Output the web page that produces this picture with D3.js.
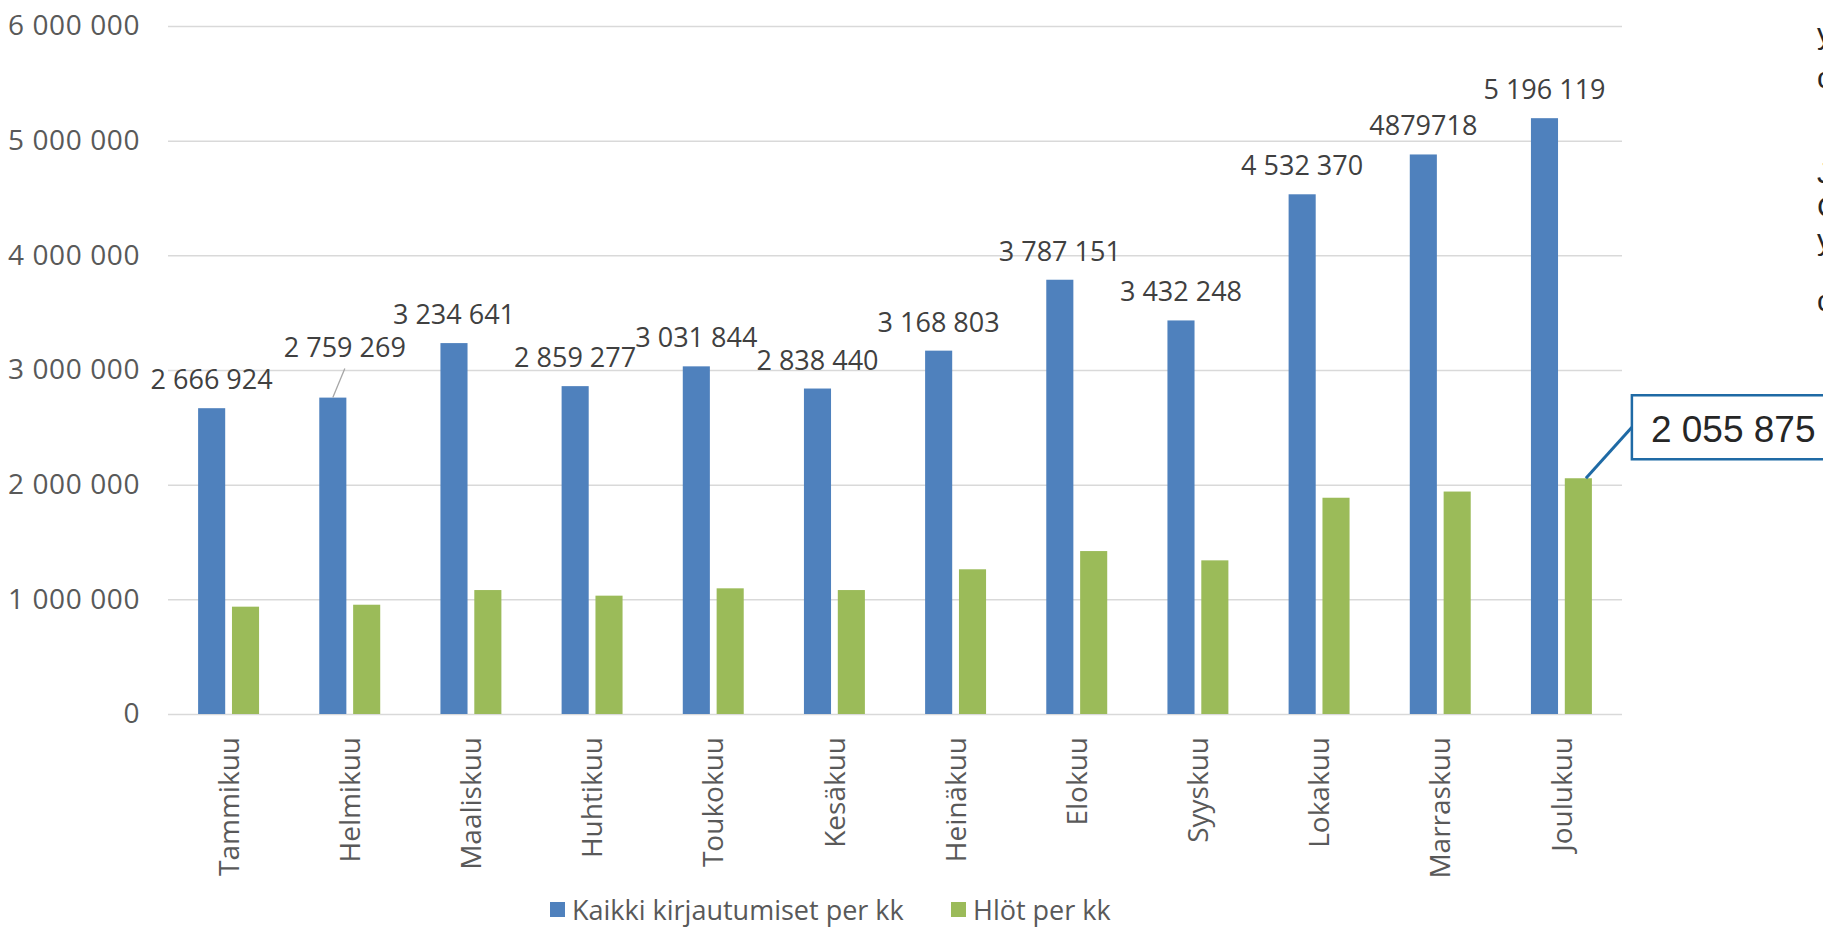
<!DOCTYPE html>
<html>
<head>
<meta charset="utf-8">
<script src="https://cdn.jsdelivr.net/npm/d3@7"></script>
<style>
  html, body { margin: 0; padding: 0; background: #fff; overflow: hidden; }
</style>
</head>
<body>
<div class="canvas"></div>
<script>
// chart data
const months = ['Tammikuu', 'Helmikuu', 'Maaliskuu', 'Huhtikuu', 'Toukokuu', 'Kesäkuu',
  'Heinäkuu', 'Elokuu', 'Syyskuu', 'Lokakuu', 'Marraskuu', 'Joulukuu']
const seriesNames = ['Kaikki kirjautumiset per kk', 'Hlöt per kk']
const logins = [2666924, 2759269, 3234641, 2859277, 3031844, 2838440,
  3168803, 3787151, 3432248, 4532370, 4879718, 5196119]
const persons = [936000, 953000, 1081000, 1032000, 1096000, 1081000,
  1262000, 1421000, 1340000, 1886000, 1940000, 2055875]
const loginLabels = ['2 666 924', '2 759 269', '3 234 641', '2 859 277', '3 031 844', '2 838 440',
  '3 168 803', '3 787 151', '3 432 248', '4 532 370', '4879718', '5 196 119']
const calloutLabel = '2 055 875'
const yTicks = [0, 1000000, 2000000, 3000000, 4000000, 5000000, 6000000]

const dims = { width: 1823, height: 927 }
const plot = { left: 168, right: 1622, top: 26, bottom: 714 }
const colors = ['#4f81bd', '#9bbb59']

const fi = d3.formatLocale({ decimal: ',', thousands: ' ', grouping: [3], currency: ['', ''] })
const fmt = fi.format(',')

const svg = d3
  .select('.canvas')
  .append('svg')
  .attr('width', dims.width)
  .attr('height', dims.height)
  .style('display', 'block')

const y = d3.scaleLinear().domain([0, 6000000]).range([plot.bottom, plot.top])

const x0 = d3
  .scaleBand()
  .domain(months)
  .range([plot.left, plot.right])
  .paddingInner(0.497)
  .paddingOuter(0.2485)

const x1 = d3
  .scaleBand()
  .domain(seriesNames)
  .range([0, x0.bandwidth()])
  .paddingInner(0.2)

// y axis with gridlines
const yAxis = svg
  .append('g')
  .attr('transform', `translate(${plot.left}, 0)`)
  .call(
    d3.axisLeft(y)
      .tickValues(yTicks)
      .tickSize(-(plot.right - plot.left))
      .tickPadding(28)
      .tickFormat(fmt)
  )
yAxis.select('.domain').remove()
yAxis.selectAll('line').attr('stroke', '#d9d9d9').attr('stroke-width', 1.5)
yAxis
  .selectAll('text')
  .attr('fill', '#595959')
  .style('font-family', '"Open Sans", sans-serif')
  .style('font-size', '28px')
  .style('letter-spacing', '0.6px')

// x axis labels, rotated
const xAxis = svg
  .append('g')
  .attr('transform', `translate(0, ${plot.bottom})`)
  .call(d3.axisBottom(x0).tickSize(0))
xAxis.select('.domain').remove()
xAxis
  .selectAll('text')
  .attr('transform', 'rotate(-90)')
  .attr('x', -23)
  .attr('y', 0)
  .attr('dy', '0.36em')
  .attr('text-anchor', 'end')
  .attr('fill', '#595959')
  .style('font-family', '"Open Sans", sans-serif')
  .style('font-size', '28px')

// bars
const rows = months.map((m, i) => ({ month: m, values: [logins[i], persons[i]] }))

const groups = svg
  .selectAll('g.month')
  .data(rows)
  .enter()
  .append('g')
  .attr('class', 'month')
  .attr('transform', (d) => `translate(${x0(d.month)}, 0)`)

groups
  .selectAll('rect')
  .data((d) => d.values.map((v, k) => ({ key: seriesNames[k], value: v, k })))
  .enter()
  .append('rect')
  .attr('x', (d) => x1(d.key))
  .attr('y', (d) => y(d.value))
  .attr('width', x1.bandwidth())
  .attr('height', (d) => y(0) - y(d.value))
  .attr('fill', (d) => colors[d.k])

// data labels on the blue series
const labelShift = { Helmikuu: { dx: 12, dy: -22 } } // moved label gets a leader line
const blueX = (m) => x0(m) + x1(seriesNames[0]) + x1.bandwidth() / 2

svg
  .append('g')
  .selectAll('text')
  .data(rows)
  .enter()
  .append('text')
  .attr('x', (d) => blueX(d.month) + (labelShift[d.month] ? labelShift[d.month].dx : 0))
  .attr('y', (d) => y(d.values[0]) - 19 + (labelShift[d.month] ? labelShift[d.month].dy : 0))
  .attr('text-anchor', 'middle')
  .attr('fill', '#404040')
  .style('font-family', '"Open Sans", sans-serif')
  .style('font-size', '27px')
  .text((d, i) => loginLabels[i])

Object.keys(labelShift).forEach((m) => {
  const i = months.indexOf(m)
  const bx = blueX(m)
  const by = y(logins[i])
  svg
    .append('line')
    .attr('x1', bx)
    .attr('y1', by)
    .attr('x2', bx + labelShift[m].dx)
    .attr('y2', by - 29)
    .attr('stroke', '#a6a6a6')
    .attr('stroke-width', 1.3)
})

// callout for the last green bar
const last = months.length - 1
const gx = x0(months[last]) + x1(seriesNames[1])
const gy = y(persons[last])
const box = { x: gx + x1.bandwidth() + 40, y: gy - 83, h: 64 }

svg
  .append('line')
  .attr('x1', gx + x1.bandwidth() * 0.78)
  .attr('y1', gy)
  .attr('x2', box.x)
  .attr('y2', box.y + 32)
  .attr('stroke', '#1f6aa5')
  .attr('stroke-width', 3)

svg
  .append('rect')
  .attr('x', box.x)
  .attr('y', box.y)
  .attr('width', 240)
  .attr('height', box.h)
  .attr('fill', '#fff')
  .attr('stroke', '#1f6aa5')
  .attr('stroke-width', 2.5)

svg
  .append('text')
  .attr('x', box.x + 19)
  .attr('y', box.y + 47)
  .attr('fill', '#262626')
  .style('font-family', '"Liberation Sans", Arial, sans-serif')
  .style('font-size', '37px')
  .text(calloutLabel)

// legend
const legendX = [550, 951]
const legend = svg
  .append('g')
  .selectAll('g')
  .data(seriesNames)
  .enter()
  .append('g')
  .attr('transform', (d, i) => `translate(${legendX[i]}, 910)`)

legend
  .append('rect')
  .attr('x', 0)
  .attr('y', -8)
  .attr('width', 15)
  .attr('height', 15)
  .attr('fill', (d, i) => colors[i])

legend
  .append('text')
  .attr('x', 22)
  .attr('y', 0)
  .attr('dy', '0.36em')
  .attr('fill', '#595959')
  .style('font-family', '"Open Sans", sans-serif')
  .style('font-size', '27px')
  .text((d) => d)

// text box cut off at the right edge of the picture
const edgeGlyphs = ['y', 'c', 'J', 'C', 'y', 'c']
const edgeBase = [44, 88, 183, 217, 250, 311]
svg
  .append('g')
  .selectAll('text')
  .data(edgeGlyphs)
  .enter()
  .append('text')
  .attr('x', 1817)
  .attr('y', (d, i) => edgeBase[i])
  .attr('fill', '#262626')
  .style('font-family', '"Liberation Sans", Arial, sans-serif')
  .style('font-size', '30px')
  .text((d) => d)
</script>
</body>
</html>
